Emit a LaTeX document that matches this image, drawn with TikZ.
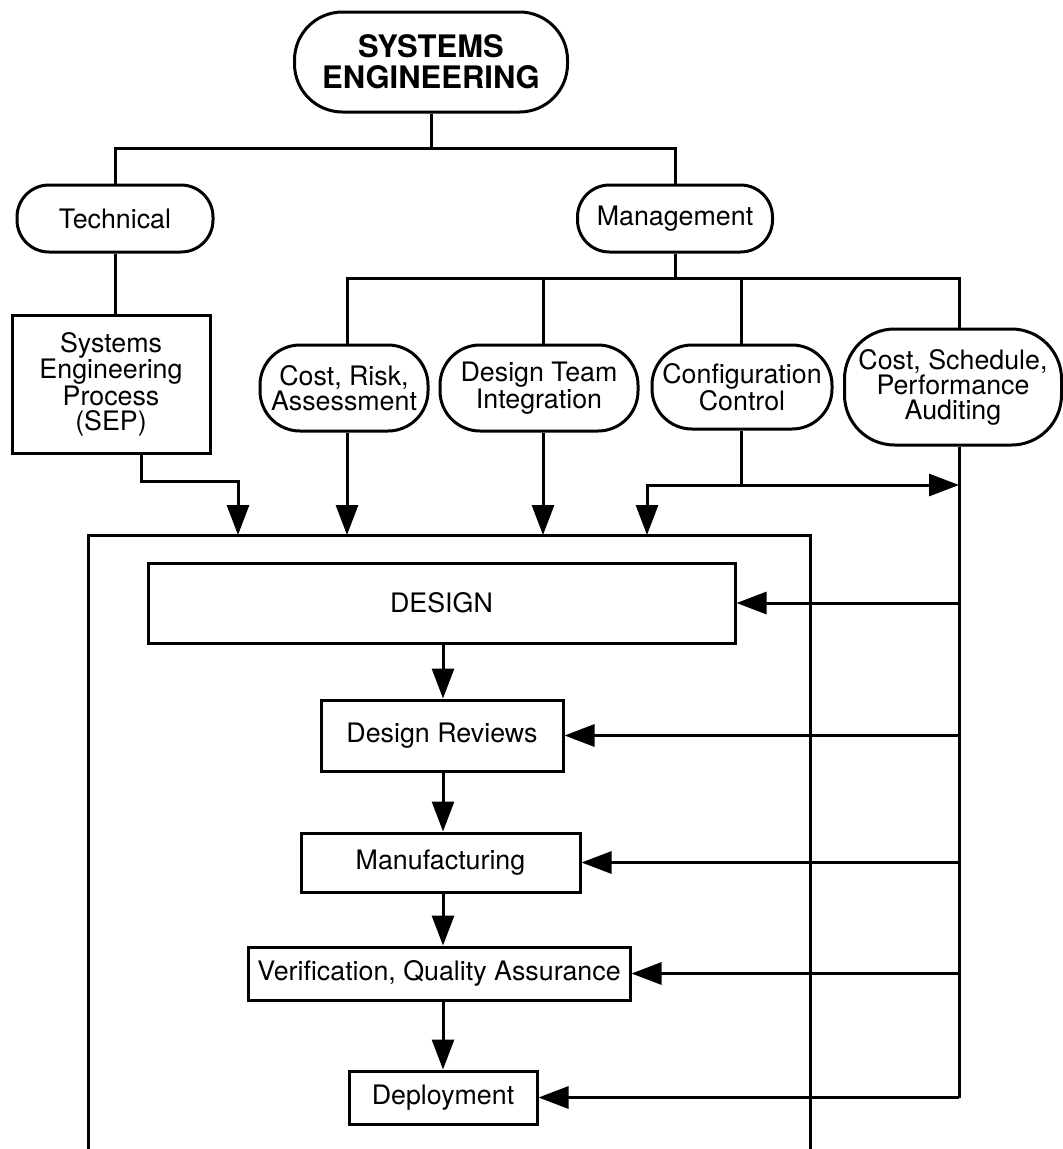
\documentclass[tikz,border=0pt]{standalone}
\usepackage{fontspec}
\setmainfont{TeX Gyre Heros}
\usetikzlibrary{arrows.meta}
\begin{document}
\begin{tikzpicture}[x=1pt,y=-1pt,
  line width=3pt,
  every node/.style={inner sep=0pt, align=center, font=\fontsize{26.8}{25}\selectfont},
  pill/.style={draw, rounded corners=#1},
  pill/.default=32pt,
  boxnode/.style={draw},
  arr/.style={-{Triangle[length=30pt,width=22pt]}},
]
\useasboundingbox (0,0) rectangle (1063,1149);

% --- top of the hierarchy ---
\node[pill=48pt, minimum width=273pt, minimum height=100pt,
      font=\bfseries\fontsize{31}{31}\selectfont] (se) at (431,62) {SYSTEMS\\ENGINEERING};
\node[pill, minimum width=196pt, minimum height=67pt] (tech) at (115,218.5) {Technical};
\node[pill, minimum width=195pt, minimum height=67pt] (mgmt) at (675,218.5) {Management};

% --- second level ---
\node[boxnode, minimum width=198pt, minimum height=138pt] (sep) at (111,384)
  {Systems\\Engineering\\Process\\(SEP)};
\node[pill=40pt, minimum width=168pt, minimum height=86pt] (crisk) at (344,388) {Cost, Risk,\\Assessment};
\node[pill=40pt, minimum width=198pt, minimum height=86pt] (dti) at (539,388) {Design Team\\Integration};
\node[pill=40pt, minimum width=180pt, minimum height=84pt] (cfg) at (742,387) {Configuration\\Control};
\node[pill=50pt, minimum width=217pt, minimum height=116pt] (css) at (953,387) {Cost, Schedule,\\Performance\\Auditing};

% --- life-cycle stages ---
\node[boxnode, minimum width=587pt, minimum height=80pt] (design) at (441.5,603) {DESIGN};
\node[boxnode, minimum width=242pt, minimum height=71pt] (drev) at (442,735.5) {Design Reviews};
\node[boxnode, minimum width=279pt, minimum height=59pt] (mfg) at (440.5,862.5) {Manufacturing};
\node[boxnode, minimum width=382pt, minimum height=53pt] (vqa) at (439,973.5) {Verification, Quality Assurance};
\node[boxnode, minimum width=188pt, minimum height=53pt] (dep) at (443,1097.5) {Deployment};

% --- junction points ---
\coordinate (j1) at (431,148);
\coordinate (m1) at (347,278);
\coordinate (m2) at (543,278);
\coordinate (m3) at (741,278);
\coordinate (m4) at (959,278);
\coordinate (topL) at (88,535);
\coordinate (topR) at (810,535);
\coordinate (botL) at (88,1149);
\coordinate (botR) at (810,1149);
\coordinate (a1) at (238,535);
\coordinate (a4) at (647,535);
\coordinate (c1) at (741,485);
\coordinate (c2) at (959,485);
\coordinate (ax) at (443,0);

% --- enclosing frame, open at the bottom ---
\draw (botL) -- (topL) -- (topR) -- (botR);

% --- tree connectors ---
\draw (se.south) -- (j1);
\draw (tech.north) |- (j1) -| (mgmt.north);
\draw (tech.south) -- (tech.south |- sep.north);
\draw (mgmt.south) -- (mgmt.south |- m1);
\draw (m1 |- crisk.north) -- (m1) -- (m4) -- (m4 |- css.north);
\draw (m2) -- (m2 |- dti.north);
\draw (m3) -- (m3 |- cfg.north);

% --- inputs into the frame ---
\draw[arr] ([xshift=30pt]sep.south) -- ++(0,27) -| (a1);
\draw[arr] (m1 |- crisk.south) -- (m1 |- topL);
\draw[arr] (m2 |- dti.south) -- (m2 |- topL);
\draw (m3 |- cfg.south) -- (c1);
\draw[arr] (c1) -- (c2);
\draw[arr] (c1) -| (a4);

% --- auditing feedback line ---
\draw (m4 |- css.south) -- (m4 |- dep.east);
\draw[arr] (m4 |- design.east) -- (design.east);
\draw[arr] (m4 |- drev.east) -- (drev.east);
\draw[arr] (m4 |- mfg.east) -- (mfg.east);
\draw[arr] (m4 |- vqa.east) -- (vqa.east);
\draw[arr] (m4 |- dep.east) -- (dep.east);

% --- stage sequence ---
\draw[arr] (design.south -| ax) -- (drev.north -| ax);
\draw[arr] (drev.south -| ax) -- (mfg.north -| ax);
\draw[arr] (mfg.south -| ax) -- (vqa.north -| ax);
\draw[arr] (vqa.south -| ax) -- (dep.north -| ax);
\end{tikzpicture}
\end{document}
